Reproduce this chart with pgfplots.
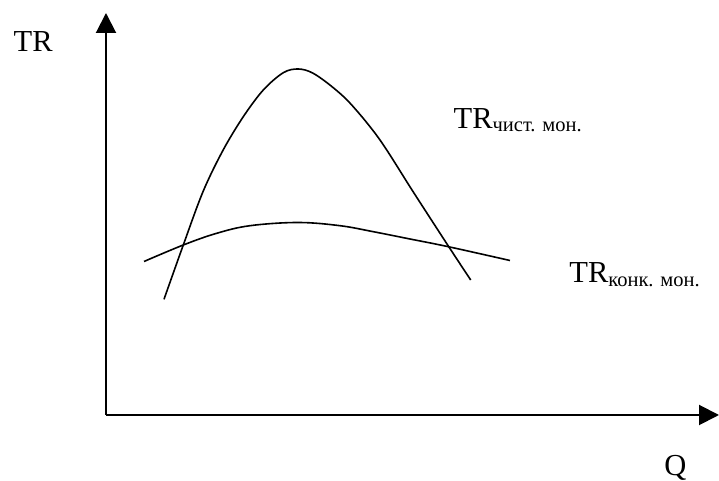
\documentclass[border=0pt]{standalone}
\usepackage{fontspec}
\setmainfont{Liberation Serif}
\usepackage{pgfplots}
\pgfplotsset{compat=1.18}
\usetikzlibrary{arrows.meta}

% pixel coordinates of the reference, y counted upward from the bottom
\newcommand{\mainsize}{\fontsize{15.25}{18}\selectfont}
\newcommand{\sub}[1]{\raisebox{-1.7pt}{\fontsize{10.25}{12}\selectfont #1}}

\begin{document}
\begin{tikzpicture}
\begin{axis}[
	x=0.5pt, y=0.5pt,
	xmin=106, xmax=719,
	ymin=66, ymax=468,
	axis lines=left,
	axis line style={line width=1pt, -{Triangle[length=10pt,width=10pt]}},
	ticks=none,
	clip=false
	]
% TR of the pure monopoly
\addplot[black, line width=0.8pt, smooth, tension=0.55] coordinates {
	(164,181.7) (183.3,236) (203,289.3) (223,330.7) (243.3,364.3) (263.3,391)
	(283.3,408.3) (298.3,412) (313,407.8) (333,393.5) (352,375.7) (380,341)
	(413.3,289) (448.3,235) (470.7,201)};
% TR of monopolistic competition
\addplot[black, line width=0.8pt, smooth, tension=0.6] coordinates {
	(144,219.5) (183.3,236) (216.7,247.7) (250,255.3) (298,258.5)
	(340,255.3) (373.3,249.3) (410,242) (448.3,234.3) (510,220.5)};

\node[anchor=base west, inner sep=0pt, font=\mainsize] at (axis cs:13.3,429.3) {TR};
\node[anchor=base, inner sep=0pt, font=\mainsize] at (axis cs:675.5,5.5) {Q};
\node[anchor=base west, inner sep=0pt, font=\mainsize] at (axis cs:453.3,352.7) {TR\sub{чист. мон.}};
\node[anchor=base west, inner sep=0pt, font=\mainsize] at (axis cs:569,198.3) {TR\sub{конк. мон.}};

\coordinate (ll) at (axis cs:0,0);
\coordinate (ur) at (axis cs:719,481);
\end{axis}
\pgfresetboundingbox
\path (ll) rectangle (ur);
\end{tikzpicture}
\end{document}
